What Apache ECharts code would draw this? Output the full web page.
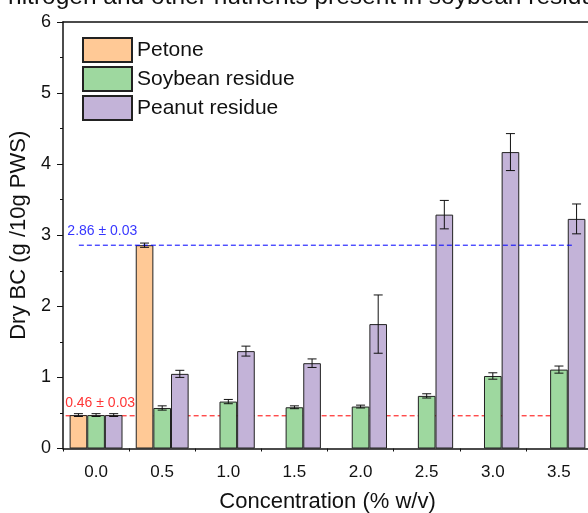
<!DOCTYPE html>
<html>
<head>
<meta charset="utf-8">
<script src="https://cdn.jsdelivr.net/npm/echarts@6/dist/echarts.min.js"></script>
<style>html,body{margin:0;padding:0;background:#fff}#c{width:588px;height:513px}</style>
</head>
<body>
<div id="c"></div>
<script>
const categories = ['0.0', '0.5', '1.0', '1.5', '2.0', '2.5', '3.0', '3.5'];
const petone = [0.47, 2.86, null, null, null, null, null, null];
const petoneErr = [0.02, 0.03, null, null, null, null, null, null];
const soybean = [0.47, 0.57, 0.66, 0.58, 0.59, 0.74, 1.02, 1.11];
const soybeanErr = [0.02, 0.03, 0.03, 0.02, 0.02, 0.03, 0.045, 0.05];
const peanut = [0.47, 1.05, 1.37, 1.20, 1.75, 3.29, 4.17, 3.23];
const peanutErr = [0.02, 0.05, 0.07, 0.06, 0.41, 0.20, 0.26, 0.21];
const blueRef = 2.86, blueRefLabel = '2.86 ± 0.03', blueRefX = [-0.13, 3.62];
const redRef = 0.46, redRefLabel = '0.46 ± 0.03', redRefX = [-0.23, 3.60];
const titleText = 'nitrogen and other nutrients present in soybean residue';

const FONT = 'Liberation Sans, Arial, sans-serif';
const chart = echarts.init(document.getElementById('c'));

function errRender(offsetIdx) {
  return function (params, api) {
    const i = api.value(0), v = api.value(1), e = api.value(2);
    const top = api.coord([i, v + e]);
    const bot = api.coord([i, v - e]);
    const bw = api.size([1, 0])[0] * 0.8 / 3;
    const x = top[0] + offsetIdx * bw;
    const hw = 4.5;
    const st = { stroke: '#111', lineWidth: 1 };
    return {
      type: 'group',
      children: [
        { type: 'line', shape: { x1: x, y1: top[1], x2: x, y2: bot[1] }, style: st },
        { type: 'line', shape: { x1: x - hw, y1: top[1], x2: x + hw, y2: top[1] }, style: st },
        { type: 'line', shape: { x1: x - hw, y1: bot[1], x2: x + hw, y2: bot[1] }, style: st }
      ]
    };
  };
}
function errData(vals, errs) {
  const out = [];
  vals.forEach((v, i) => { if (v != null) out.push([i, v, errs[i]]); });
  return out;
}
function barSeries(name, data, color) {
  return {
    name, type: 'bar', data, xAxisIndex: 0, yAxisIndex: 0,
    barGap: 0, barCategoryGap: '20%',
    itemStyle: { color, borderColor: '#222', borderWidth: 1 },
    z: 2
  };
}
function refSeries(y, xs, color, z) {
  return {
    type: 'line', xAxisIndex: 3, yAxisIndex: 0, z,
    symbol: 'none', silent: true,
    lineStyle: { color, width: 1, type: [5, 3] },
    data: [[xs[0], y], [xs[1], y]]
  };
}
function refLabel(y, x, color, label, pos) {
  return {
    type: 'scatter', xAxisIndex: 3, yAxisIndex: 0, z: 5, silent: true,
    symbolSize: 1, itemStyle: { color: 'rgba(0,0,0,0)' },
    data: [[x, y]],
    labelLayout: { hideOverlap: false },
    label: { show: true, formatter: label, position: pos, align: 'left', verticalAlign: 'top', color, fontSize: 14, fontFamily: FONT }
  };
}

chart.setOption({
  animation: false,
  textStyle: { fontFamily: FONT },
  graphic: [{
    type: 'text', x: 8, y: 10,
    style: { text: titleText, fontSize: 24.5, fontFamily: FONT, fill: '#111', verticalAlign: 'bottom' }
  }],
  legend: {
    orient: 'vertical', left: 82, top: 37, itemWidth: 49, itemHeight: 24, itemGap: 3,
    icon: 'rect', padding: 0,
    data: ['Petone', 'Soybean residue', 'Peanut residue'],
    textStyle: { fontSize: 21, color: '#111', fontFamily: FONT }
  },
  grid: { left: 63, top: 22, right: -4, bottom: 64.5, containLabel: false, outerBoundsMode: 'none' },
  xAxis: [
    {
      type: 'category', data: categories, position: 'bottom',
      axisLine: { onZero: false, lineStyle: { color: '#111', width: 1.5 } },
      axisTick: { alignWithLabel: true, length: 6, lineStyle: { color: '#111' } },
      axisLabel: { fontSize: 17, color: '#111', margin: 15, fontFamily: FONT },
      name: 'Concentration (% w/v)', nameLocation: 'middle', nameGap: 42,
      nameTextStyle: { fontSize: 22, color: '#111', fontFamily: FONT }
    },
    {
      type: 'category', data: categories, position: 'bottom',
      axisLine: { show: false, onZero: false },
      axisTick: { show: true, length: 3, lineStyle: { color: '#111' } },
      axisLabel: { show: false }
    },
    {
      type: 'category', data: categories, position: 'top',
      axisLine: { onZero: false, lineStyle: { color: '#111', width: 1.5 } },
      axisTick: { show: false }, axisLabel: { show: false }
    },
    { type: 'value', min: -0.25, max: 3.75, show: false }
  ],
  yAxis: [{
    type: 'value', min: 0, max: 6, interval: 1,
    axisLine: { show: true, onZero: false, lineStyle: { color: '#111', width: 1.5 } },
    axisTick: { show: true, length: 6, lineStyle: { color: '#111' } },
    minorTick: { show: true, splitNumber: 2, length: 3, lineStyle: { color: '#111' } },
    splitLine: { show: false },
    axisLabel: { fontSize: 18, color: '#111', margin: 12, fontFamily: FONT },
    name: 'Dry BC (g /10g PWS)', nameLocation: 'middle', nameGap: 32,
    nameTextStyle: { fontSize: 22, color: '#111', fontFamily: FONT }
  }],
  series: [
    refSeries(redRef, redRefX, '#FF0000', 1),
    barSeries('Petone', petone, '#FFC996'),
    barSeries('Soybean residue', soybean, '#9ED89F'),
    barSeries('Peanut residue', peanut, '#C3B3D8'),
    { type: 'custom', xAxisIndex: 0, yAxisIndex: 0, z: 4, renderItem: errRender(-1), data: errData(petone, petoneErr), encode: { x: 0, y: 1 } },
    { type: 'custom', xAxisIndex: 0, yAxisIndex: 0, z: 4, renderItem: errRender(0), data: errData(soybean, soybeanErr), encode: { x: 0, y: 1 } },
    { type: 'custom', xAxisIndex: 0, yAxisIndex: 0, z: 4, renderItem: errRender(1), data: errData(peanut, peanutErr), encode: { x: 0, y: 1 } },
    refSeries(blueRef, blueRefX, '#0000FF', 3),
    refLabel(redRef, redRefX[0], '#FF0000', redRefLabel, [0, -19]),
    refLabel(blueRef, blueRefX[0], '#0000FF', blueRefLabel, [-11, -21])
  ]
});
</script>
</body>
</html>
